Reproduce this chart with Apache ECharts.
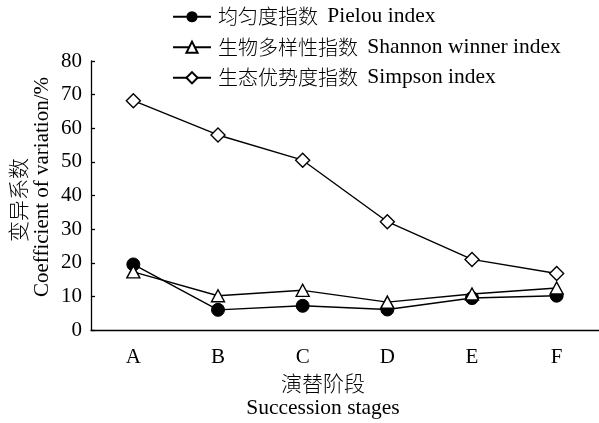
<!DOCTYPE html>
<html><head><meta charset="utf-8">
<script src="https://cdn.jsdelivr.net/npm/echarts@6/dist/echarts.min.js"></script>
<style>html,body{margin:0;padding:0;background:#fff}#c{width:599px;height:423px}</style>
</head><body><div id="c"></div>
<script>
const categories = ['A','B','C','D','E','F'];
const pielou = [19.5, 6.0, 7.2, 6.1, 9.5, 10.2];
const shannon = [17.3, 10.2, 11.8, 8.3, 10.7, 12.5];
const simpson = [68.2, 58.0, 50.5, 32.2, 21.0, 16.8];
const yTicks = [0, 80, 10];
const seriesCn = ['均匀度指数', '生物多样性指数', '生态优势度指数'];
const seriesEn = ['Pielou index', 'Shannon winner index', 'Simpson index'];
const FONT = '"Liberation Serif", "Noto Sans CJK SC", serif';
const CJK = '"Noto Sans CJK SC", sans-serif';

const names = seriesCn.map((c, i) => c + ' ' + seriesEn[i]);
const chart = echarts.init(document.getElementById('c'));
const lineStyle = {color:'#000', width:1.4};
chart.setOption({
  animation:false,
  backgroundColor:'#fff',
  grid:{left:91, top:61, right:-2, bottom:93, containLabel:false},
  legend:{
    orient:'vertical', left:167, top:1, itemWidth:38, itemHeight:14, itemGap:9,
    data:names,
    formatter: function (n) {
      const i = names.indexOf(n);
      return '{cn|' + seriesCn[i] + '}{en| ' + seriesEn[i] + '}';
    },
    textStyle:{
      color:'#000', padding:[0,0,0,2],
      rich:{
        cn:{fontFamily:CJK, fontSize:20, fontWeight:300, color:'#000', lineHeight:18},
        en:{fontFamily:FONT, fontSize:21.5, color:'#000', lineHeight:18, padding:[0,0,0,4]}
      }
    }
  },
  xAxis:{
    type:'category', data:categories, boundaryGap:true,
    axisLine:{lineStyle:{color:'#000', width:1.3}},
    axisTick:{inside:true, length:5, lineStyle:{color:'#000', width:1.3}},
    axisLabel:{fontFamily:FONT, fontSize:21, color:'#000', margin:17}
  },
  yAxis:{
    type:'value', min:yTicks[0], max:yTicks[1], interval:yTicks[2],
    splitLine:{show:false},
    axisLine:{show:true, lineStyle:{color:'#000', width:1.3}},
    axisTick:{show:true, inside:true, length:4, lineStyle:{color:'#000', width:1.3}},
    axisLabel:{fontFamily:FONT, fontSize:21, color:'#000', margin:9}
  },
  graphic:[
    {type:'text', x:18, y:200, rotation:Math.PI/2, style:{text:'变异系数', font:'300 21px '+CJK, fill:'#000', textAlign:'center', textVerticalAlign:'middle'}},
    {type:'text', x:42, y:187, rotation:Math.PI/2, style:{text:'Coefficient of variation/%', font:'21px '+FONT, fill:'#000', textAlign:'center', textVerticalAlign:'middle'}},
    {type:'text', x:323, y:383, style:{text:'演替阶段', font:'300 21px '+CJK, fill:'#000', textAlign:'center', textVerticalAlign:'middle'}},
    {type:'text', x:323, y:408, style:{text:'Succession stages', font:'21.5px '+FONT, fill:'#000', textAlign:'center', textVerticalAlign:'middle'}}
  ],
  series:[
    {name:names[0], type:'line', data:pielou, symbol:'circle', symbolSize:13,
     lineStyle:lineStyle, itemStyle:{color:'#000', borderColor:'#000'}},
    {name:names[1], type:'line', data:shannon, symbol:'triangle', symbolSize:[13,12],
     lineStyle:lineStyle, itemStyle:{color:'#fff', borderColor:'#000', borderWidth:1.4}},
    {name:names[2], type:'line', data:simpson, symbol:'diamond', symbolSize:[14,14],
     lineStyle:lineStyle, itemStyle:{color:'#fff', borderColor:'#000', borderWidth:1.4}}
  ]
});
</script></body></html>
